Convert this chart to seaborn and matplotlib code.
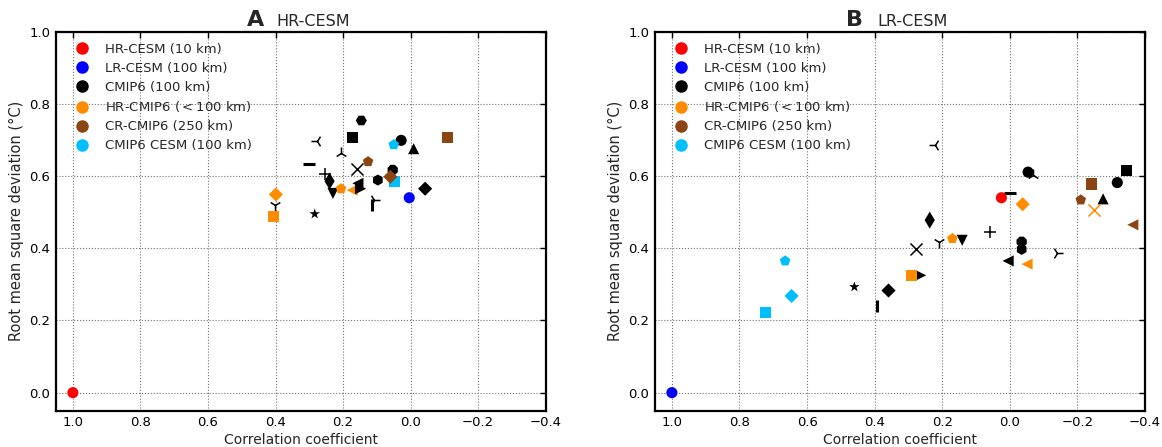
import matplotlib
matplotlib.use("Agg")
import matplotlib.pyplot as plt
import seaborn as sns
import pandas as pd
from matplotlib.lines import Line2D

# ---------------- data ----------------
groups = ["HR-CESM (10 km)", "LR-CESM (100 km)", "CMIP6 (100 km)",
          "HR-CMIP6 ($<$100 km)", "CR-CMIP6 (250 km)", "CMIP6 CESM (100 km)"]
group_colors = ["#ff0000", "#0000ff", "#000000", "#ff8c00", "#8b4513", "#00bfff"]

# Panel A: reference HR-CESM
a_corr = [0.146, 0.171, 0.278, 0.028, -0.009, 0.206, 0.300, 0.159, 0.097,
          0.253, 0.240, 0.230, 0.114, 0.108, 0.401, 0.284, -0.043,
          0.399, 0.406, 0.206, 0.173,
          0.156, 0.148, 0.053,
          0.126, 0.048, 0.060, -0.109, 0.050,
          0.004, 1.0]
a_rmsd = [0.754, 0.706, 0.698, 0.699, 0.676, 0.663, 0.634, 0.620, 0.589,
          0.605, 0.586, 0.552, 0.520, 0.533, 0.519, 0.495, 0.565,
          0.549, 0.487, 0.565, 0.561,
          0.580, 0.565, 0.617,
          0.640, 0.584, 0.598, 0.706, 0.687,
          0.540, 0.0]
a_group = [2, 2, 2, 2, 2, 2, 2, 2, 2,
           2, 2, 2, 2, 2, 2, 2, 2,
           3, 3, 3, 3,
           2, 2, 2,
           4, 5, 4, 4, 5,
           1, 0]
a_symbol = ["H", "s", "3", "o", "^", "2", "_", "x", "h",
            "+", "d", "v", "|", "4", "1", "*", "D",
            "D", "s", "p", "<",
            "<", ">", "8",
            "p", "s", "D", "s", "p",
            "o", "o"]

# Panel B: reference LR-CESM
b_corr = [0.2225, -0.068, -0.054, -0.344, -0.318, -0.276, 0.0, 0.237, 0.058,
          0.211, 0.141, 0.279, -0.035, -0.035, -0.140, 0.005, 0.264, 0.460,
          0.359, 0.393,
          -0.038, 0.170, -0.051, 0.292, -0.250,
          -0.242, -0.210, -0.364,
          0.665, 0.646, 0.724,
          0.025, 1.0]
b_rmsd = [0.687, 0.602, 0.611, 0.616, 0.582, 0.537, 0.554, 0.478, 0.446,
          0.418, 0.422, 0.399, 0.418, 0.397, 0.387, 0.365, 0.325, 0.293,
          0.283, 0.240,
          0.522, 0.427, 0.356, 0.325, 0.506,
          0.578, 0.534, 0.465,
          0.365, 0.268, 0.222,
          0.540, 0.0]
b_group = [2, 2, 2, 2, 2, 2, 2, 2, 2,
           2, 2, 2, 2, 2, 2, 2, 2, 2,
           2, 2,
           3, 3, 3, 3, 3,
           4, 4, 4,
           5, 5, 5,
           0, 1]
b_symbol = ["3", "2", "o", "s", "o", "^", "_", "d", "+",
            "1", "v", "x", "8", "h", "4", "<", ">", "*",
            "D", "|",
            "D", "p", "<", "s", "x",
            "s", "p", "<",
            "p", "D", "s",
            "o", "o"]

# ---------------- style ----------------
sns.set_theme(style="white")
plt.rcParams["font.family"] = ["DejaVu Sans"]
plt.rcParams["mathtext.fontset"] = "dejavusans"

W, H = 1162, 447
fig = plt.figure(figsize=(W / 100, H / 100), dpi=100)
fig.patch.set_facecolor("white")

ax_a = fig.add_axes([56 / W, 1 - 410.7 / H, 489.7 / W, 379 / H])
ax_b = fig.add_axes([655 / W, 1 - 410.7 / H, 490 / W, 379 / H])

palette = dict(zip(groups, group_colors))
line_markers = {"x", "+", "_", "|", "1", "2", "3", "4"}


def draw(ax, corr, rmsd, grp, sym, letter, name, name_x):
    df = pd.DataFrame({"corr": corr, "rmsd": rmsd,
                       "group": [groups[g] for g in grp], "symbol": sym})
    for i in range(len(df)):
        row = df.iloc[[i]]
        m = row["symbol"].iloc[0]
        if m in line_markers:
            lw = 2.2 if m in ("_", "|") else 1.1
            sns.scatterplot(data=row, x="corr", y="rmsd", hue="group",
                            palette=palette, marker=m, s=75, linewidth=lw,
                            legend=False, ax=ax, zorder=3 + i * 0.01)
        else:
            s = 52 if m in ("D",) else (75 if m == "d" else 64)
            sns.scatterplot(data=row, x="corr", y="rmsd", hue="group",
                            palette=palette, marker=m, s=s, linewidth=0,
                            edgecolor="none", legend=False, ax=ax,
                            zorder=3 + i * 0.01)
    ax.set_xlim(1.05, -0.4)
    ax.set_ylim(-0.05, 1.0)
    ax.set_xticks([1.0, 0.8, 0.6, 0.4, 0.2, 0.0, -0.2, -0.4])
    ax.set_xticklabels(["1.0", "0.8", "0.6", "0.4", "0.2", "0.0", "\u22120.2", "\u22120.4"])
    ax.set_yticks([0.0, 0.2, 0.4, 0.6, 0.8, 1.0])
    ax.set_yticklabels(["0.0", "0.2", "0.4", "0.6", "0.8", "1.0"])
    ax.grid(True, linestyle=":", color="0.45", linewidth=0.8)
    ax.set_axisbelow(True)
    for sp in ax.spines.values():
        sp.set_linewidth(1.6)
        sp.set_color("black")
        sp.set_visible(True)
    ax.tick_params(direction="in", top=True, right=True, length=4, width=1,
                   labelsize=9.5, colors="black", pad=4)
    ax.set_xlabel("Correlation coefficient", fontsize=10, labelpad=3)
    ax.set_ylabel("Root mean square deviation (\u00b0C)", fontsize=10.5, labelpad=4)
    ax.text(0.39, 1.015, letter, transform=ax.transAxes, fontsize=16,
            fontweight="bold", ha="left", va="baseline")
    ax.text(name_x, 1.015, name, transform=ax.transAxes, fontsize=11.5,
            ha="left", va="baseline")
    handles = [Line2D([], [], linestyle="none", marker="o", markersize=8,
                      markerfacecolor=c, markeredgecolor=c) for c in group_colors]
    ax.legend(handles, groups, loc="upper left", bbox_to_anchor=(0.016, 0.985),
              borderaxespad=0, frameon=False, fontsize=9.5, labelspacing=0.45,
              handletextpad=0.75, numpoints=1)


draw(ax_a, a_corr, a_rmsd, a_group, a_symbol, "A", "HR-CESM", 0.449)
draw(ax_b, b_corr, b_rmsd, b_group, b_symbol, "B", "LR-CESM", 0.4537)

fig.savefig("out.png", dpi=100)
